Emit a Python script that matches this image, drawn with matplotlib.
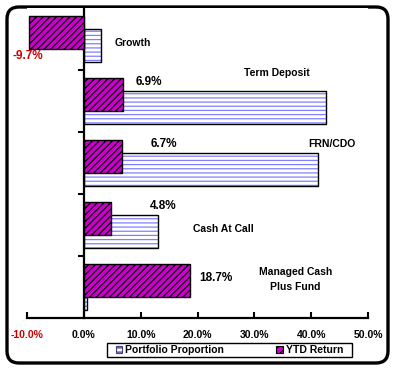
import numpy as np
import matplotlib
matplotlib.use('Agg')
import matplotlib.pyplot as plt
from matplotlib.patches import FancyBboxPatch, Patch, Rectangle

# Daten (von oben nach unten)
kategorien = ['Growth', 'Term Deposit', 'FRN/CDO', 'Cash At Call', 'Managed Cash\nPlus Fund']
portfolio = [3.0, 42.6, 41.2, 13.0, 0.6]     # Portfolio Proportion (%)
ytd = [-9.7, 6.9, 6.7, 4.8, 18.7]            # YTD Return (%)
ytd_labels = ['-9.7%', '6.9%', '6.7%', '4.8%', '18.7%']
xticks = [-10, 0, 10, 20, 30, 40, 50]
xtick_labels = ['-10.0%', '0.0%', '10.0%', '20.0%', '30.0%', '40.0%', '50.0%']

# Positionen der Beschriftungen (x in %, y in Kategorie-Einheiten)
kat_pos = [(5.4, 3.94, 'left'), (34.0, 3.455, 'center'), (43.7, 2.31, 'center'),
           (24.6, 0.93, 'center'), (37.2, 0.12, 'center')]
val_pos = [(-9.9, 3.73), (11.5, 3.31), (14.1, 2.30), (13.9, 1.30), (23.2, 0.14)]

plt.rcParams['font.family'] = 'Liberation Sans'
plt.rcParams['font.weight'] = 'bold'
plt.rcParams['hatch.linewidth'] = 0.9

magenta = '#CC00CC'
blau = '#8080FF'

fig = plt.figure(figsize=(3.95, 3.7), dpi=100)
W, H = 395.0, 370.0
ax = fig.add_axes([27/W, 1-318/H, (368-27)/W, (318-8)/H])

n = len(kategorien)
y = np.arange(n)[::-1]     # Growth oben
h = 0.53
off = 0.105

# Portfolio: blaue Schraffur, schwarzer Rand
ax.barh(y - off, portfolio, height=h, color='white', edgecolor=blau, hatch='----', linewidth=0, zorder=2)
ax.barh(y - off, portfolio, height=h, color='none', edgecolor='black', linewidth=1.0, zorder=3)
# YTD: magenta mit schwarzer Schraffur
ax.barh(y + off, ytd, height=h, color=magenta, edgecolor='black', hatch='/////', linewidth=1.0, zorder=4)

ax.set_xlim(-10, 50)
ax.set_ylim(-0.5, 4.5)

for (xx, yy, ha), name in zip(kat_pos, kategorien):
    ax.text(xx, yy, name, ha=ha, va='center', fontsize=7.5, fontweight='bold',
            linespacing=1.6, zorder=5)
for (xx, yy), lab, v in zip(val_pos, ytd_labels, ytd):
    ax.text(xx, yy, lab, ha='center', va='center', fontsize=8.5, fontweight='bold',
            color='#CC0000' if v < 0 else 'black', zorder=5)

# Achsen
for s in ['top', 'right']:
    ax.spines[s].set_visible(False)
ax.spines['left'].set_position(('data', 0))
ax.spines['left'].set_linewidth(1.6)
ax.spines['bottom'].set_linewidth(1.6)
ax.set_yticks([0.5, 1.5, 2.5, 3.5])
ax.set_yticklabels([])
ax.tick_params(axis='y', direction='out', length=4, width=1.5)
ax.set_xticks(xticks)
ax.set_xticklabels(xtick_labels, fontsize=7.5, fontweight='bold')
ax.tick_params(axis='x', direction='in', length=4, width=1.5, pad=9)
ax.get_xticklabels()[0].set_color('#CC0000')

# abgerundeter Rahmen + Legendenkasten
ov = fig.add_axes([0, 0, 1, 1], zorder=-1)
ov.set_xlim(0, W)
ov.set_ylim(H, 0)
ov.axis('off')
ov.add_patch(FancyBboxPatch((7, 7), 381, 356, boxstyle='round,pad=0,rounding_size=12',
                            facecolor='white', edgecolor='black', linewidth=2.4))
ov.add_patch(Rectangle((107, 343), 245, 14, facecolor='white', edgecolor='black', linewidth=1.0))

# Legende
handles = [Patch(facecolor='white', edgecolor='#404080', hatch='----', linewidth=0.8),
           Patch(facecolor=magenta, edgecolor='black', hatch='////', linewidth=0.8)]
leg = fig.legend(handles, ['Portfolio Proportion', 'YTD Return'], ncol=2,
                 bbox_to_anchor=(229.5/W, 1-350/H), loc='center',
                 fontsize=7.5, frameon=False, borderpad=0,
                 handlelength=0.6, handleheight=0.6, handletextpad=0.3,
                 borderaxespad=0, columnspacing=5.0)

fig.savefig('out.png', dpi=100)
